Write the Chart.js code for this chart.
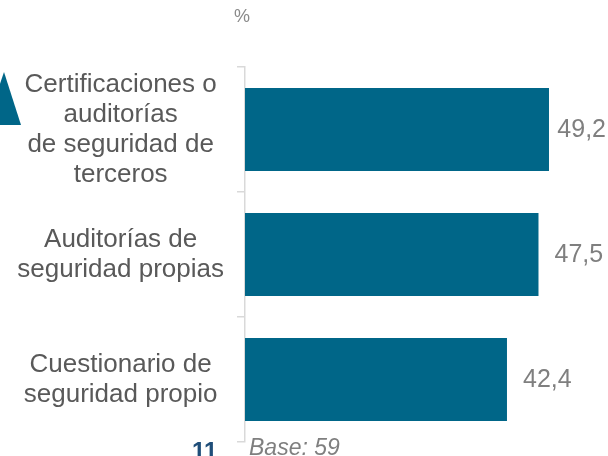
<!DOCTYPE html>
<html>
<head>
<meta charset="utf-8">
<script src="https://cdn.jsdelivr.net/npm/chart.js@4.4.0/dist/chart.umd.min.js"></script>
<style>
  html, body { margin: 0; padding: 0; background: #ffffff; overflow: hidden; }
  #wrap { position: relative; width: 608px; height: 456px; }
</style>
</head>
<body>
<div id="wrap"><canvas id="c" width="608" height="456"></canvas></div>
<script>
const categories = [
  ["Certificaciones o", "auditorías", "de seguridad de", "terceros"],
  ["Auditorías de", "seguridad propias"],
  ["Cuestionario de", "seguridad propio"]
];
const values = [49.2, 47.5, 42.4];
const unitLabel = "%";
const baseNote = "Base: 59";
const pageNumber = "11";

const FONT = "'Liberation Sans', Arial, sans-serif";
const BAR_COLOR = "#006688";

const decorPlugin = {
  id: "decor",
  afterDatasetsDraw(chart) {
    const ctx = chart.ctx;
    const meta = chart.getDatasetMeta(0);
    ctx.save();
    // value labels
    ctx.font = "25px " + FONT;
    ctx.fillStyle = "#7f7f7f";
    ctx.textBaseline = "middle";
    ctx.textAlign = "left";
    meta.data.forEach((bar, i) => {
      const txt = values[i].toFixed(1).replace(".", ",");
      const w = ctx.measureText(txt).width;
      let x = bar.x + 16;
      if (x + w > 606) x = 606 - w;
      ctx.fillText(txt, x, bar.y + 1);
    });
    // percent unit
    ctx.font = "18px " + FONT;
    ctx.fillStyle = "#8a8a8a";
    ctx.textBaseline = "alphabetic";
    ctx.fillText(unitLabel, 234, 22);
    // base note
    ctx.font = "italic 23px " + FONT;
    ctx.fillStyle = "#7f7f7f";
    ctx.fillText(baseNote, 249, 455);
    // page number
    ctx.font = "bold 24px " + FONT;
    ctx.fillStyle = "#1f4e79";
    ctx.fillText(pageNumber, 192, 459);
    // decorative triangle at left edge
    ctx.fillStyle = "#006688";
    ctx.beginPath();
    ctx.moveTo(4, 72);
    ctx.lineTo(21, 125);
    ctx.lineTo(-14, 125);
    ctx.closePath();
    ctx.fill();
    ctx.restore();
  }
};

new Chart(document.getElementById("c"), {
  type: "bar",
  data: {
    labels: categories,
    datasets: [{
      data: values,
      backgroundColor: BAR_COLOR,
      borderWidth: 0,
      categoryPercentage: 1,
      barPercentage: 0.664
    }]
  },
  options: {
    indexAxis: "y",
    responsive: false,
    animation: false,
    devicePixelRatio: 1,
    layout: { padding: { left: 0, right: 0, top: 67, bottom: 14 } },
    plugins: { legend: { display: false }, tooltip: { enabled: false }, title: { display: false } },
    scales: {
      x: {
        display: false,
        min: 0,
        max: 58.75
      },
      y: {
        afterFit(scale) {
          scale.width = 245;
          scale.paddingTop = 0;
          scale.paddingBottom = 0;
        },
        grid: {
          display: true,
          offset: true,
          drawOnChartArea: false,
          drawTicks: true,
          tickLength: 8,
          color: "#d9d9d9",
          lineWidth: 1.5
        },
        border: { display: true, color: "#d9d9d9", width: 1.5 },
        ticks: {
          crossAlign: "center",
          padding: 13,
          color: "#595959",
          font: { family: FONT, size: 26, lineHeight: 1.15 }
        }
      }
    }
  },
  plugins: [decorPlugin]
});
</script>
</body>
</html>
